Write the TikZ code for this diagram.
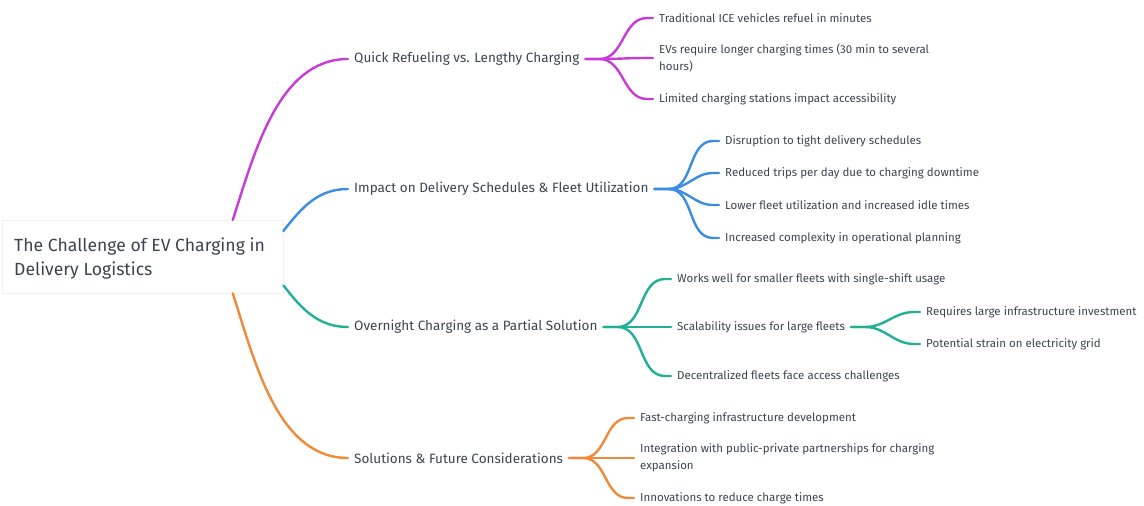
\documentclass[tikz,border=0pt]{standalone}
\usepackage{fontspec}
\setmainfont{Fira Sans}
\usetikzlibrary{calc,positioning}
\definecolor{ink}{HTML}{3D4350}
\definecolor{cpurple}{HTML}{C73BD6}
\definecolor{cblue}{HTML}{3A8DE3}
\definecolor{cteal}{HTML}{21AF98}
\definecolor{corange}{HTML}{EF8A3B}

\begin{document}
\begin{tikzpicture}[x=1pt,y=-1pt,
  rootbox/.style={draw=black!5,fill=white,anchor=north west,minimum width=281pt,minimum height=73pt,inner sep=0pt},
  roottext/.style={anchor=west,text=ink,font=\fontsize{17.6}{24}\selectfont,align=left,inner sep=0pt},
  branch/.style={anchor=west,text=ink,font=\fontsize{13.5}{16}\selectfont,inner xsep=6pt,inner ysep=2pt},
  leaf/.style={anchor=west,text=ink,font=\fontsize{11.5}{17}\selectfont,align=left,inner xsep=6pt,inner ysep=2pt},
  link/.style={line width=2.4pt,line cap=round}]
\useasboundingbox (0,0) rectangle (1144,506);

\node[rootbox] (root) at (2,220) {};
\node[roottext] (title) at ($(root.west)+(12,2)$) {The Challenge of EV Charging in\\Delivery Logistics};

\node[branch] (b1) at (348,59) {Quick Refueling vs. Lengthy Charging};
\node[branch] (b2) at (348,189) {Impact on Delivery Schedules \& Fleet Utilization};
\node[branch] (b3) at (348,327) {Overnight Charging as a Partial Solution};
\node[branch] (b4) at (348,458) {Solutions \& Future Considerations};

\node[leaf] (q1) at (653,18) {Traditional ICE vehicles refuel in minutes};
\node[leaf] (q2) at (653,58) {EVs require longer charging times (30 min to several\\hours)};
\node[leaf] (q3) at (653,99) {Limited charging stations impact accessibility};

\node[leaf] (i1) at (719,141) {Disruption to tight delivery schedules};
\node[leaf] (i2) at (719,173) {Reduced trips per day due to charging downtime};
\node[leaf] (i3) at (719,205) {Lower fleet utilization and increased idle times};
\node[leaf] (i4) at (719,238) {Increased complexity in operational planning};

\node[leaf] (o1) at (671,279) {Works well for smaller fleets with single-shift usage};
\node[leaf] (o2) at (671,327) {Scalability issues for large fleets};
\node[leaf] (o3) at (671,376) {Decentralized fleets face access challenges};
\node[leaf] (r1) at (920,312) {Requires large infrastructure investment};
\node[leaf] (r2) at (920,344) {Potential strain on electricity grid};

\node[leaf] (s1) at (634,418) {Fast-charging infrastructure development};
\node[leaf] (s2) at (634,458) {Integration with public-private partnerships for charging\\expansion};
\node[leaf] (s3) at (634,498) {Innovations to reduce charge times};

% root to branches
\draw[link,cpurple] ($(root.north west)!0.82!(root.north east)$) to[out=72,in=180,looseness=0.9] (b1.west);
\draw[link,cblue] ($(root.north east)+(0,11)$) to[out=52,in=180] (b2.west);
\draw[link,cteal] ($(root.south east)+(0,-8)$) to[out=-52,in=180] (b3.west);
\draw[link,corange] ($(root.south west)!0.82!(root.south east)$) to[out=-72,in=180,looseness=0.9] (b4.west);

% branches to leaves
\foreach \n in {q1,q2,q3}
  \draw[link,cpurple] (b1.east) -- ++(14,0) to[out=0,in=180] ($(\n.west)+(-6,0)$) -- (\n.west);
\foreach \n in {i1,i2,i3,i4}
  \draw[link,cblue] (b2.east) -- ++(14,0) to[out=0,in=180] ($(\n.west)+(-6,0)$) -- (\n.west);
\foreach \n in {o1,o2,o3}
  \draw[link,cteal] (b3.east) -- ++(14,0) to[out=0,in=180] ($(\n.west)+(-6,0)$) -- (\n.west);
\foreach \n in {r1,r2}
  \draw[link,cteal] (o2.east) -- ++(14,0) to[out=0,in=180] ($(\n.west)+(-6,0)$) -- (\n.west);
\foreach \n in {s1,s2,s3}
  \draw[link,corange] (b4.east) -- ++(14,0) to[out=0,in=180] ($(\n.west)+(-6,0)$) -- (\n.west);
\end{tikzpicture}
\end{document}
